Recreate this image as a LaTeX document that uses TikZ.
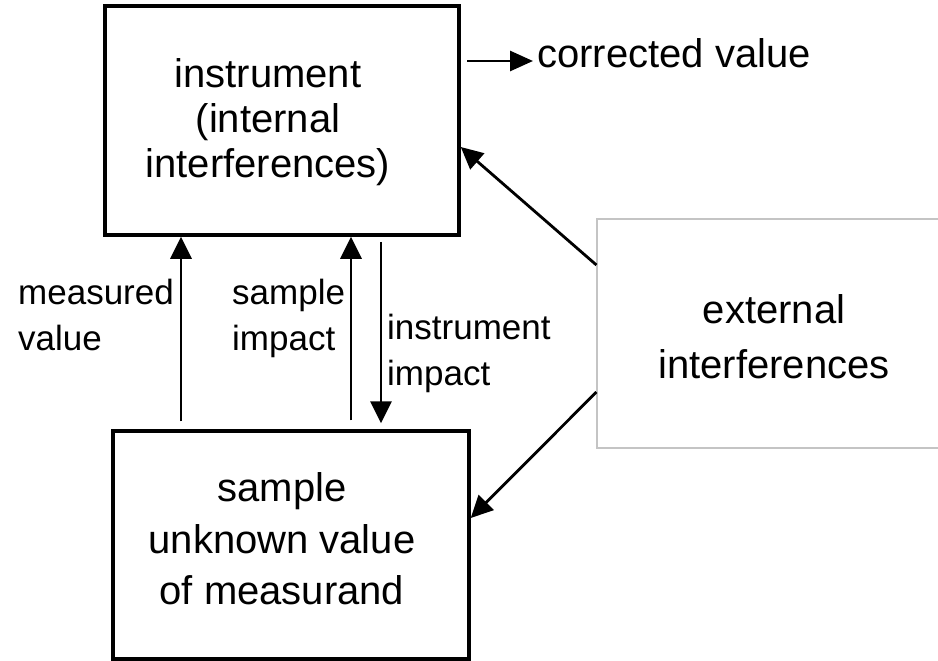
\documentclass[tikz,border=0pt]{standalone}
\usepackage{fontspec}
\setmainfont{Liberation Sans}
\usetikzlibrary{arrows.meta}
\definecolor{boxgray}{RGB}{196,196,196}
\begin{document}
\begin{tikzpicture}[x=1pt,y=-1pt,line join=miter,>={Triangle[length=22pt,width=21pt]}]
	\tikzset{box/.style={draw,line width=3.5pt,minimum width=354pt,minimum height=229pt,inner sep=0pt},
		big/.style={font=\fontsize{40}{45}\selectfont,align=center,inner sep=0pt},
		small/.style={font=\fontsize{35}{46}\selectfont,align=left,inner sep=0pt,anchor=west},
		flow/.style={->,line width=2.8pt}}
	\useasboundingbox (0,0) rectangle (938,661);
	\node[box] (inst) at (282,120.5) {};
	\node[box,minimum width=356pt,minimum height=228pt] (samp) at (291,545) {};
	\node[draw=boxgray,line width=1.2pt,minimum width=354pt,minimum height=229pt] (ext) at (774,333.5) {};
	\node[big] (insttxt) at (268,122) {instrument\\(internal\\interferences)};
	\node[big,font=\fontsize{40}{51.5}\selectfont] (samptxt) at (282,539) {sample\\unknown value\\of measurand};
	\node[big,font=\fontsize{40}{55}\selectfont] (exttxt) at (774,337) {external\\interferences};
	\node[big,anchor=base west] (cv) at (537,68) {corrected value};
	\node[small] (mvlab) at (18,315) {measured\\value};
	\node[small] (silab) at (232,318) {sample\\impact};
	\node[small] (iilab) at (387,353) {instrument\\impact};
	\coordinate (mv) at (181,0);
	\coordinate (si) at (351,0);
	\coordinate (ii) at (381,0);
	\coordinate (cvtail) at (467,61);
	\coordinate (e1) at (0,265);
	\coordinate (e2) at (0,392);
	\coordinate (i1) at (0,147);
	\coordinate (s1) at (0,518);
	\draw[flow] ([yshift=8pt]samp.north -| mv) -- (inst.south -| mv);
	\draw[flow] ([yshift=9pt]samp.north -| si) -- (inst.south -| si);
	\draw[flow] ([yshift=-5pt]inst.south -| ii) -- ([yshift=6pt]samp.north -| ii);
	\draw[flow,>={Triangle[length=23pt,width=20pt]},shorten >=4pt] (cvtail) -- (cvtail -| cv.west);
	\draw[flow] (ext.west |- e1) -- (inst.east |- i1);
	\draw[flow] (ext.west |- e2) -- (samp.east |- s1);
\end{tikzpicture}
\end{document}
